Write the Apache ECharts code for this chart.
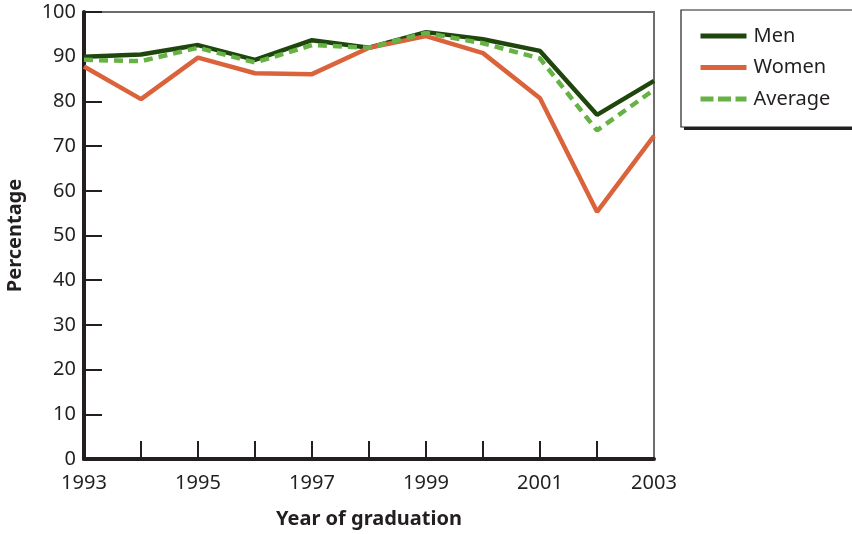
<!DOCTYPE html>
<html>
<head>
<meta charset="utf-8">
<script src="https://cdn.jsdelivr.net/npm/echarts@6/dist/echarts.min.js"></script>
<style>
  html, body { margin: 0; padding: 0; background: #fff; }
  #chart { width: 852px; height: 534px; }
</style>
</head>
<body>
<div id="chart"></div>
<script>
// data
var years = ['1993', '1994', '1995', '1996', '1997', '1998', '1999', '2000', '2001', '2002', '2003'];
var men = [90, 90.5, 92.6, 89.3, 93.7, 92, 95.5, 93.9, 91.3, 77, 84.6];
var women = [87.8, 80.5, 89.8, 86.3, 86.1, 92, 94.6, 90.8, 80.7, 55.3, 72.3];
var average = [89.3, 89, 92, 88.7, 92.6, 92, 95.3, 93, 89.6, 73.5, 82.6];

var ink = '#231f20';
var font = 'Noto Sans';

var chart = echarts.init(document.getElementById('chart'));

chart.setOption({
    backgroundColor: '#fff',
    animation: false,
    textStyle: { fontFamily: font },
    grid: {
        left: 84,
        top: 12,
        right: 198,
        bottom: 75,
        outerBoundsMode: 'none',
        show: true,
        borderColor: '#6d6d6d',
        borderWidth: 2
    },
    // legend drop shadow
    graphic: [{
        type: 'rect',
        z: 0,
        shape: { x: 684, y: 13, width: 200, height: 117 },
        style: { fill: ink }
    }],
    legend: {
        orient: 'vertical',
        left: 681,
        top: 10,
        z: 10,
        padding: [16, 60, 18, 17],
        itemWidth: 46,
        itemHeight: 14,
        itemGap: 11.5,
        backgroundColor: '#fff',
        borderColor: ink,
        borderWidth: 1.2,
        itemStyle: { opacity: 0 },
        lineStyle: { width: 5 },
        textStyle: { fontFamily: font, fontSize: 20, color: ink, lineHeight: 20, padding: [0, 0, 0, 2] },
        data: ['Men', 'Women', { name: 'Average', lineStyle: { type: [13, 4.5] } }]
    },
    xAxis: {
        type: 'category',
        boundaryGap: false,
        data: years,
        name: 'Year of graduation',
        nameLocation: 'middle',
        nameGap: 50,
        nameTextStyle: { fontFamily: font, fontSize: 20, fontWeight: 'bold', color: ink },
        axisLine: { lineStyle: { color: ink, width: 4 } },
        axisTick: {
            inside: true,
            length: 18,
            interval: function (index) { return index > 0 && index < years.length - 1; },
            lineStyle: { color: ink, width: 2 }
        },
        axisLabel: { interval: 1, margin: 14, fontSize: 20, color: ink, fontFamily: font },
        splitLine: { show: false }
    },
    yAxis: {
        type: 'value',
        min: 0,
        max: 100,
        interval: 10,
        name: 'Percentage',
        nameLocation: 'middle',
        nameGap: 59,
        nameRotate: 90,
        nameTextStyle: { fontFamily: font, fontSize: 20, fontWeight: 'bold', color: ink },
        axisLine: { show: true, lineStyle: { color: ink, width: 4 } },
        axisTick: { show: true, inside: true, length: 18, lineStyle: { color: ink, width: 2 } },
        axisLabel: { margin: 8, fontSize: 20, color: ink, fontFamily: font },
        splitLine: { show: false }
    },
    series: [
        {
            name: 'Men',
            type: 'line',
            data: men,
            symbol: 'none',
            color: '#1f470d',
            lineStyle: { color: '#1f470d', width: 4.5 }
        },
        {
            name: 'Women',
            type: 'line',
            data: women,
            symbol: 'none',
            color: '#da633b',
            lineStyle: { color: '#da633b', width: 4.5 }
        },
        {
            name: 'Average',
            type: 'line',
            data: average,
            symbol: 'none',
            color: '#67b245',
            lineStyle: { color: '#67b245', width: 4.5, type: [9, 6] }
        }
    ]
});
</script>
</body>
</html>
